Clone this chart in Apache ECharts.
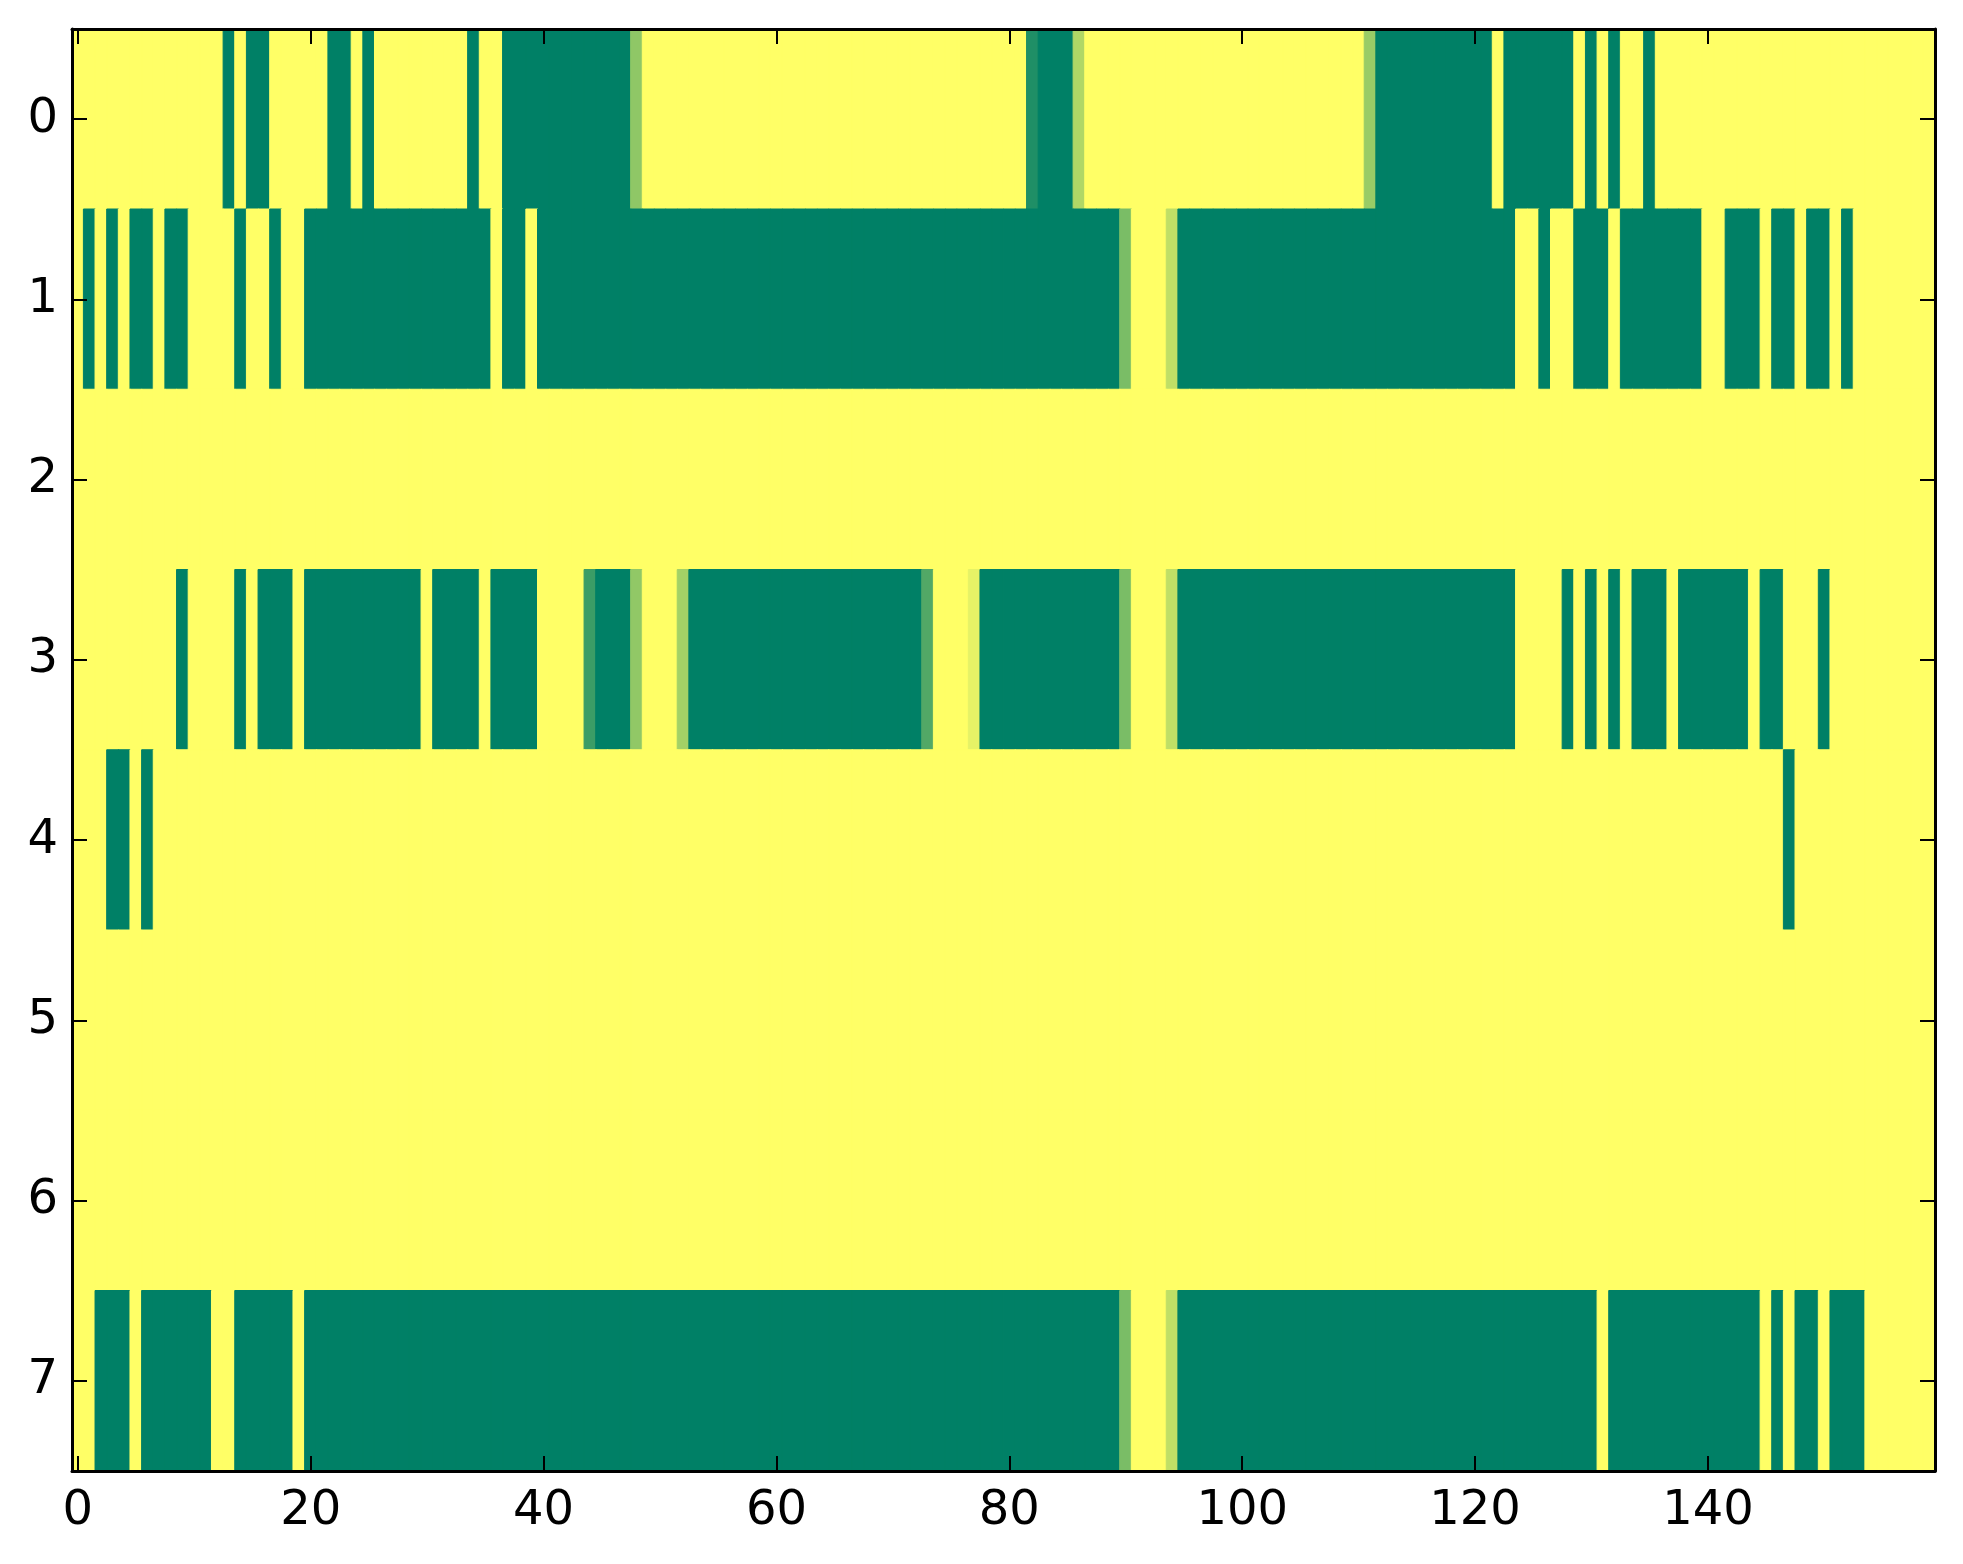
<!DOCTYPE html>
<html>
<head>
<meta charset="utf-8">
<script src="https://cdn.jsdelivr.net/npm/echarts@6/dist/echarts.min.js"></script>
<style>
html,body{margin:0;padding:0;background:#ffffff;}
#chart{width:1963px;height:1564px;}
</style>
</head>
<body>
<div id="chart"></div>
<script>
// column indices 0..159 and row indices 0..7
const columns = [
  0,1,2,3,4,5,6,7,8,9,10,11,12,13,14,15,16,17,18,19,
  20,21,22,23,24,25,26,27,28,29,30,31,32,33,34,35,36,37,38,39,
  40,41,42,43,44,45,46,47,48,49,50,51,52,53,54,55,56,57,58,59,
  60,61,62,63,64,65,66,67,68,69,70,71,72,73,74,75,76,77,78,79,
  80,81,82,83,84,85,86,87,88,89,90,91,92,93,94,95,96,97,98,99,
  100,101,102,103,104,105,106,107,108,109,110,111,112,113,114,115,116,117,118,119,
  120,121,122,123,124,125,126,127,128,129,130,131,132,133,134,135,136,137,138,139,
  140,141,142,143,144,145,146,147,148,149,150,151,152,153,154,155,156,157,158,159
];
const rowLabels = [0,1,2,3,4,5,6,7];
const xTickLabels = [0,20,40,60,80,100,120,140];

const row0 = [
  1,1,1,1,1,1,1,1,1,1, 1,1,1,0,1,0,0,1,1,1,
  1,1,0,0,1,0,1,1,1,1, 1,1,1,1,0,1,1,0,0,0,
  0,0,0,0,0,0,0,0,0.56,1, 1,1,1,1,1,1,1,1,1,1,
  1,1,1,1,1,1,1,1,1,1, 1,1,1,1,1,1,1,1,1,1,
  1,1,0.12,0,0,0,0.69,1,1,1, 1,1,1,1,1,1,1,1,1,1,
  1,1,1,1,1,1,1,1,1,1, 1,0.6,0,0,0,0,0,0,0,0,
  0,0,1,0,0,0,0,0,0,1, 0,1,0,1,1,0,1,1,1,1,
  1,1,1,1,1,1,1,1,1,1, 1,1,1,1,1,1,1,1,1,1
];
const row1 = [
  1,0,1,0,1,0,0,1,0,0, 1,1,1,1,0,1,1,0,1,1,
  0,0,0,0,0,0,0,0,0,0, 0,0,0,0,0,0,1,0,0,1,
  0,0,0,0,0,0,0,0,0,0, 0,0,0,0,0,0,0,0,0,0,
  0,0,0,0,0,0,0,0,0,0, 0,0,0,0,0,0,0,0,0,0,
  0,0,0,0,0,0,0,0,0,0, 0.48,1,1,1,0.75,0,0,0,0,0,
  0,0,0,0,0,0,0,0,0,0, 0,0,0,0,0,0,0,0,0,0,
  0,0,0,0,1,1,0,1,1,0, 0,0,1,0,0,0,0,0,0,0,
  1,1,0,0,0,1,0,0,1,0, 0,1,0,1,1,1,1,1,1,1
];
const row2 = [
  1,1,1,1,1,1,1,1,1,1, 1,1,1,1,1,1,1,1,1,1,
  1,1,1,1,1,1,1,1,1,1, 1,1,1,1,1,1,1,1,1,1,
  1,1,1,1,1,1,1,1,1,1, 1,1,1,1,1,1,1,1,1,1,
  1,1,1,1,1,1,1,1,1,1, 1,1,1,1,1,1,1,1,1,1,
  1,1,1,1,1,1,1,1,1,1, 1,1,1,1,1,1,1,1,1,1,
  1,1,1,1,1,1,1,1,1,1, 1,1,1,1,1,1,1,1,1,1,
  1,1,1,1,1,1,1,1,1,1, 1,1,1,1,1,1,1,1,1,1,
  1,1,1,1,1,1,1,1,1,1, 1,1,1,1,1,1,1,1,1,1
];
const row3 = [
  1,1,1,1,1,1,1,1,1,0, 1,1,1,1,0,1,0,0,0,1,
  0,0,0,0,0,0,0,0,0,0, 1,0,0,0,0,1,0,0,0,0,
  1,1,1,1,0.23,0,0,0,0.57,1, 1,1,0.64,0,0,0,0,0,0,0,
  0,0,0,0,0,0,0,0,0,0, 0,0,0,0.32,1,1,1,0.9,0,0,
  0,0,0,0,0,0,0,0,0,0, 0.48,1,1,1,0.75,0,0,0,0,0,
  0,0,0,0,0,0,0,0,0,0, 0,0,0,0,0,0,0,0,0,0,
  0,0,0,0,1,1,1,1,0,1, 0,1,0,1,0,0,0,1,0,0,
  0,0,0,0,1,0,0,1,1,1, 0,1,1,1,1,1,1,1,1,1
];
const row4 = [
  1,1,1,0,0,1,0,1,1,1, 1,1,1,1,1,1,1,1,1,1,
  1,1,1,1,1,1,1,1,1,1, 1,1,1,1,1,1,1,1,1,1,
  1,1,1,1,1,1,1,1,1,1, 1,1,1,1,1,1,1,1,1,1,
  1,1,1,1,1,1,1,1,1,1, 1,1,1,1,1,1,1,1,1,1,
  1,1,1,1,1,1,1,1,1,1, 1,1,1,1,1,1,1,1,1,1,
  1,1,1,1,1,1,1,1,1,1, 1,1,1,1,1,1,1,1,1,1,
  1,1,1,1,1,1,1,1,1,1, 1,1,1,1,1,1,1,1,1,1,
  1,1,1,1,1,1,1,0,1,1, 1,1,1,1,1,1,1,1,1,1
];
const row5 = [
  1,1,1,1,1,1,1,1,1,1, 1,1,1,1,1,1,1,1,1,1,
  1,1,1,1,1,1,1,1,1,1, 1,1,1,1,1,1,1,1,1,1,
  1,1,1,1,1,1,1,1,1,1, 1,1,1,1,1,1,1,1,1,1,
  1,1,1,1,1,1,1,1,1,1, 1,1,1,1,1,1,1,1,1,1,
  1,1,1,1,1,1,1,1,1,1, 1,1,1,1,1,1,1,1,1,1,
  1,1,1,1,1,1,1,1,1,1, 1,1,1,1,1,1,1,1,1,1,
  1,1,1,1,1,1,1,1,1,1, 1,1,1,1,1,1,1,1,1,1,
  1,1,1,1,1,1,1,1,1,1, 1,1,1,1,1,1,1,1,1,1
];
const row6 = [
  1,1,1,1,1,1,1,1,1,1, 1,1,1,1,1,1,1,1,1,1,
  1,1,1,1,1,1,1,1,1,1, 1,1,1,1,1,1,1,1,1,1,
  1,1,1,1,1,1,1,1,1,1, 1,1,1,1,1,1,1,1,1,1,
  1,1,1,1,1,1,1,1,1,1, 1,1,1,1,1,1,1,1,1,1,
  1,1,1,1,1,1,1,1,1,1, 1,1,1,1,1,1,1,1,1,1,
  1,1,1,1,1,1,1,1,1,1, 1,1,1,1,1,1,1,1,1,1,
  1,1,1,1,1,1,1,1,1,1, 1,1,1,1,1,1,1,1,1,1,
  1,1,1,1,1,1,1,1,1,1, 1,1,1,1,1,1,1,1,1,1
];
const row7 = [
  1,1,0,0,0,1,0,0,0,0, 0,0,1,1,0,0,0,0,0,1,
  0,0,0,0,0,0,0,0,0,0, 0,0,0,0,0,0,0,0,0,0,
  0,0,0,0,0,0,0,0,0,0, 0,0,0,0,0,0,0,0,0,0,
  0,0,0,0,0,0,0,0,0,0, 0,0,0,0,0,0,0,0,0,0,
  0,0,0,0,0,0,0,0,0,0, 0.48,1,1,1,0.75,0,0,0,0,0,
  0,0,0,0,0,0,0,0,0,0, 0,0,0,0,0,0,0,0,0,0,
  0,0,0,0,0,0,0,0,0,0, 0,1,0,0,0,0,0,0,0,0,
  0,0,0,0,0,1,0,1,0,0, 1,0,0,0,1,1,1,1,1,1
];
const rows = [row0,row1,row2,row3,row4,row5,row6,row7];

// matplotlib "summer" colormap: (v, 0.5 + 0.5 v, 0.4)
function summer(v) {
  const r = Math.round(255 * v);
  const g = Math.round(255 * (0.5 + 0.5 * v));
  const b = Math.round(255 * 0.4);
  return 'rgb(' + r + ',' + g + ',' + b + ')';
}

const cells = [];
rows.forEach(function (vals, r) {
  vals.forEach(function (v, c) {
    const col = summer(v);
    cells.push({value: [c, r, v], itemStyle: {color: col, borderColor: col, borderWidth: 1}});
  });
});

const FONT = 'DejaVu Sans';
const isXTick = function (idx) { return xTickLabels.indexOf(columns[idx]) !== -1; };
const lineStyle = {color: '#000', width: 3};
const tickStyle = {color: '#000', width: 2};

const chart = echarts.init(document.getElementById('chart'), null, {renderer: 'canvas'});
chart.setOption({
  animation: false,
  backgroundColor: '#ffffff',
  grid: {left: 72, right: 28, top: 29, bottom: 93, containLabel: false},
  xAxis: [
    {
      type: 'category', data: columns, position: 'bottom', z: 10,
      axisLine: {show: true, onZero: false, lineStyle: lineStyle},
      axisTick: {show: true, inside: true, length: 15, alignWithLabel: true, interval: isXTick, lineStyle: tickStyle},
      axisLabel: {show: true, interval: isXTick, margin: 17, fontFamily: FONT, fontSize: 48, color: '#000'},
      splitLine: {show: false}
    },
    {
      type: 'category', data: columns, position: 'top', z: 10,
      axisLine: {show: true, onZero: false, lineStyle: lineStyle},
      axisTick: {show: true, inside: true, length: 15, alignWithLabel: true, interval: isXTick, lineStyle: tickStyle},
      axisLabel: {show: false},
      splitLine: {show: false}
    }
  ],
  yAxis: [
    {
      type: 'category', data: rowLabels, inverse: true, position: 'left', z: 10,
      axisLine: {show: true, onZero: false, lineStyle: lineStyle},
      axisTick: {show: true, inside: true, length: 15, alignWithLabel: true, lineStyle: tickStyle},
      axisLabel: {show: true, margin: 14, fontFamily: FONT, fontSize: 48, color: '#000'},
      splitLine: {show: false}
    },
    {
      type: 'category', data: rowLabels, inverse: true, position: 'right', z: 10,
      axisLine: {show: true, onZero: false, lineStyle: lineStyle},
      axisTick: {show: true, inside: true, length: 15, alignWithLabel: true, lineStyle: tickStyle},
      axisLabel: {show: false},
      splitLine: {show: false}
    }
  ],
  series: [{
    type: 'heatmap', xAxisIndex: 0, yAxisIndex: 0, data: cells,
    emphasis: {disabled: true},
    progressive: 0
  }]
});
</script>
</body>
</html>
